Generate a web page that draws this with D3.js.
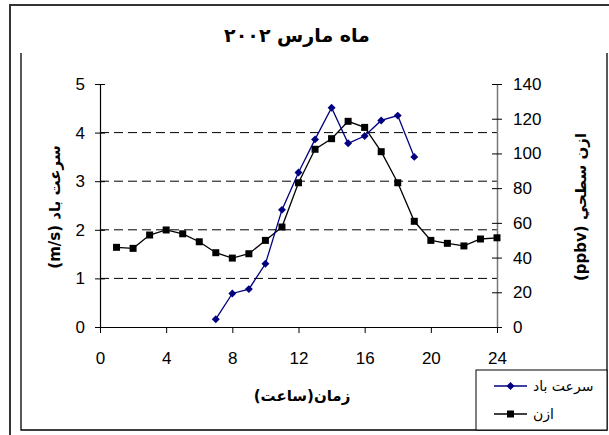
<!DOCTYPE html>
<html>
<head>
<meta charset="utf-8">
<script src="https://cdn.jsdelivr.net/npm/d3@7"></script>
<style>
  body { margin: 0; background: #fff; }
  svg { display: block; }
  text { font-family: "Liberation Sans", Arial, "DejaVu Sans", sans-serif; }
</style>
</head>
<body>
<svg id="chart" width="609" height="435"></svg>
<script>
// ---- data ----
const chartTitle = "ماه مارس ۲۰۰۲";
const xTitle = "زمان(ساعت)";
const leftTitle = "سرعت باد (m/s)";
const rightTitle = "ازن سطحي (ppbv)";
const windName = "سرعت باد";
const ozoneName = "ازن";

const windHours = [7, 8, 9, 10, 11, 12, 13, 14, 15, 16, 17, 18, 19];
const windValues = [0.16, 0.69, 0.78, 1.30, 2.41, 3.18, 3.86, 4.51, 3.78, 3.93, 4.25, 4.35, 3.50];

const ozoneHours = [1, 2, 3, 4, 5, 6, 7, 8, 9, 10, 11, 12, 13, 14, 15, 16, 17, 18, 19, 20, 21, 22, 23, 24];
const ozoneValues = [45.9, 45.3, 53.0, 55.9, 53.7, 49.1, 42.8, 39.7, 42.2, 49.9, 57.6, 83.1,
                     102.4, 108.5, 118.5, 115.0, 101.0, 83.1, 60.9, 49.9, 48.2, 46.7, 50.7, 51.4];

const xTicks = [0, 4, 8, 12, 16, 20, 24];
const leftTicks = [0, 1, 2, 3, 4, 5];
const rightTicks = [0, 20, 40, 60, 80, 100, 120, 140];
const gridValues = [1, 2, 3, 4];

// ---- layout ----
const svg = d3.select("#chart");
const x = d3.scaleLinear().domain([0, 24]).range([100, 497]);
const yL = d3.scaleLinear().domain([0, 5]).range([327, 84]);
const yR = d3.scaleLinear().domain([0, 140]).range([327, 84]);

// frames
const frame = svg.append("g").attr("fill", "none");
frame.append("path").attr("d", "M10,435 V5 H609").attr("stroke", "#333").attr("stroke-width", 2);
frame.append("path").attr("d", "M21,53 V430 H607 V53").attr("stroke", "#000").attr("stroke-width", 1.3);

// title
svg.append("text").attr("x", 297).attr("y", 42).attr("text-anchor", "middle")
  .attr("font-size", 19).attr("font-weight", "bold").attr("direction", "rtl")
  .style("font-family", "'DejaVu Sans', sans-serif")
  .text(chartTitle);

// gridlines
svg.append("g").selectAll("line").data(gridValues).join("line")
  .attr("x1", x(0)).attr("x2", x(24))
  .attr("y1", d => yL(d)).attr("y2", d => yL(d))
  .attr("stroke", "#000").attr("stroke-width", 1).attr("stroke-dasharray", "9,5");

// axes
const gx = svg.append("g").attr("transform", `translate(0,${yL(0)})`)
  .call(d3.axisBottom(x).tickValues(xTicks).tickSizeInner(6).tickSizeOuter(0).tickPadding(19).tickFormat(d3.format("d")));
const gl = svg.append("g").attr("transform", `translate(${x(0)},0)`)
  .call(d3.axisLeft(yL).tickValues(leftTicks).tickSizeInner(5).tickSizeOuter(0).tickPadding(10).tickFormat(d3.format("d")));
const gr = svg.append("g").attr("transform", `translate(${x(24)},0)`)
  .call(d3.axisRight(yR).tickValues(rightTicks).tickSizeInner(5).tickSizeOuter(0).tickPadding(11).tickFormat(d3.format("d")));

[gx, gl, gr].forEach(g => {
  g.selectAll("text").attr("font-size", 17).attr("fill", "#000")
    .style("font-family", "'Liberation Sans', Arial, sans-serif");
  g.selectAll(".tick line").attr("stroke", "#000");
});
gl.select(".domain").attr("stroke", "#000").attr("stroke-width", 1.2);
gr.select(".domain").attr("stroke", "#777").attr("stroke-width", 1.5);
gx.select(".domain").attr("stroke", "#000").attr("stroke-width", 1.2);
// crossing ticks on y axes
gl.selectAll(".tick line").attr("x1", -5).attr("x2", 5);
gr.selectAll(".tick line").attr("x1", -5).attr("x2", 5);

// axis titles
svg.append("text").attr("transform", "translate(60,207) rotate(-90)")
  .attr("text-anchor", "middle").attr("font-size", 15).attr("font-weight", "bold")
  .attr("direction", "rtl").style("font-family", "'DejaVu Sans', sans-serif")
  .text(leftTitle);
svg.append("text").attr("transform", "translate(586,207) rotate(-90)")
  .attr("text-anchor", "middle").attr("font-size", 15).attr("font-weight", "bold")
  .attr("direction", "rtl").style("font-family", "'DejaVu Sans', sans-serif")
  .text(rightTitle);
svg.append("text").attr("x", 302).attr("y", 401)
  .attr("text-anchor", "middle").attr("font-size", 15).attr("font-weight", "bold")
  .attr("direction", "rtl").style("font-family", "'DejaVu Sans', sans-serif")
  .text(xTitle);

// series
const ozoneData = ozoneHours.map((h, i) => [h, ozoneValues[i]]);
const windData = windHours.map((h, i) => [h, windValues[i]]);

svg.append("path").datum(ozoneData)
  .attr("d", d3.line().x(d => x(d[0])).y(d => yR(d[1])))
  .attr("fill", "none").attr("stroke", "#000").attr("stroke-width", 1.3);
svg.append("g").selectAll("path").data(ozoneData).join("path")
  .attr("d", d3.symbol(d3.symbolSquare, 49))
  .attr("transform", d => `translate(${x(d[0])},${yR(d[1])})`)
  .attr("fill", "#000");

svg.append("path").datum(windData)
  .attr("d", d3.line().x(d => x(d[0])).y(d => yL(d[1])))
  .attr("fill", "none").attr("stroke", "#000080").attr("stroke-width", 1.3);
svg.append("g").selectAll("path").data(windData).join("path")
  .attr("d", d3.symbol(d3.symbolDiamond2, 40))
  .attr("transform", d => `translate(${x(d[0])},${yL(d[1])})`)
  .attr("fill", "#000080");

// legend
const lg = svg.append("g");
lg.append("rect").attr("x", 476).attr("y", 370).attr("width", 131).attr("height", 60)
  .attr("fill", "#fff").attr("stroke", "#000").attr("stroke-width", 1);
const items = [
  { name: windName, color: "#000080", sym: d3.symbolDiamond2, size: 40 },
  { name: ozoneName, color: "#000", sym: d3.symbolSquare, size: 49 }
];
items.forEach((it, i) => {
  const yy = 386 + i * 28;
  lg.append("line").attr("x1", 494).attr("x2", 527).attr("y1", yy).attr("y2", yy)
    .attr("stroke", it.color).attr("stroke-width", 1.3);
  lg.append("path").attr("d", d3.symbol(it.sym, it.size))
    .attr("transform", `translate(510.5,${yy})`).attr("fill", it.color);
  lg.append("text").attr("x", 533).attr("y", yy + 5).attr("font-size", 14)
    .attr("text-anchor", "start").attr("direction", "ltr")
    .style("font-family", "'DejaVu Sans', sans-serif")
    .text(it.name);
});
</script>
</body>
</html>
